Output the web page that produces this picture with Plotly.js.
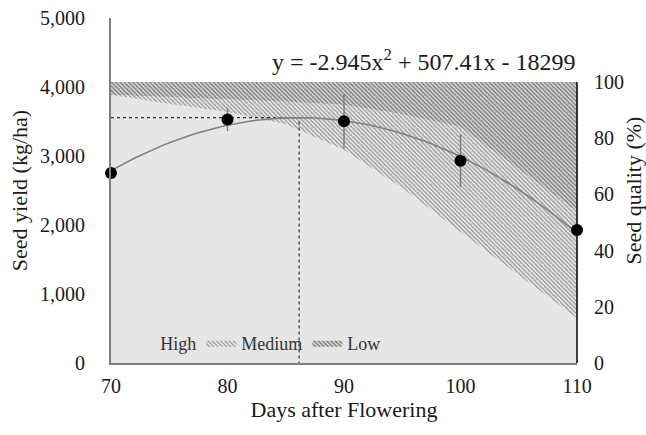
<!DOCTYPE html>
<html>
<head>
<meta charset="utf-8">
<script src="https://cdn.plot.ly/plotly-3.0.1.min.js"></script>
<style>html,body{margin:0;padding:0;background:#fff;}#chart{width:646px;height:435px;}</style>
</head>
<body>
<div id="chart"></div>
<script>
// Seed yield observations
const days = [70, 80, 90, 100, 110];
const yieldKg = [2755, 3530, 3505, 2930, 1928];
const yieldErr = [0, 170, 390, 380, 0];

// Trendline coefficients (from the equation shown on the chart)
const coefA = -2.945, coefB = 507.41, coefC = -18299;

// Seed quality bands (%), cumulative upper boundaries
const qDays = [70, 75, 80, 85, 90, 95, 100, 105, 110];
const highTop = [95.4, 92.2, 89.3, 85.0, 75.8, 62.3, 46.6, 31.3, 16.0];
const mediumTop = [95.4, 94.5, 93.8, 93.0, 91.8, 88.5, 84.0, 69.0, 54.0];
const lowTop = [100, 100, 100, 100, 100, 100, 100, 100, 100];

const xTicks = [70, 80, 90, 100, 110];
const yTicks = [0, 1000, 2000, 3000, 4000, 5000];
const qTicks = [0, 20, 40, 60, 80, 100];

const fitX = [];
for (let d = days[0]; d <= days[days.length - 1] + 1e-9; d += 0.5) fitX.push(d);
const f = x => coefA * x * x + coefB * x + coefC;
const fitY = fitX.map(f);
const vx = -coefB / (2 * coefA);
const vy = f(vx);

const serif = 'Liberation Serif';
const txt = '#1a1a1a';

const traces = [
  {x: qDays, y: highTop, yaxis: 'y', type: 'scatter', mode: 'lines', name: 'High',
   fill: 'tozeroy', fillcolor: '#e6e6e6', line: {width: 0}, hoverinfo: 'skip'},
  {x: qDays, y: mediumTop, yaxis: 'y', type: 'scatter', mode: 'lines', name: 'Medium',
   fill: 'tonexty', fillcolor: '#ebebeb', line: {width: 0}, hoverinfo: 'skip',
   fillpattern: {shape: '\\', fgcolor: '#999999', bgcolor: '#ebebeb', size: 3, solidity: 0.45}},
  {x: qDays, y: lowTop, yaxis: 'y', type: 'scatter', mode: 'lines', name: 'Low',
   fill: 'tonexty', fillcolor: '#d9d9d9', line: {width: 0}, hoverinfo: 'skip',
   fillpattern: {shape: '\\', fgcolor: '#808080', bgcolor: '#dcdcdc', size: 3, solidity: 0.5}},
  {x: [xTicks[0], vx, vx], y: [vy, vy, 0], yaxis: 'y2', type: 'scatter', mode: 'lines', showlegend: false,
   line: {color: '#333', width: 1.2, dash: 'dot'}, hoverinfo: 'skip'},
  {x: fitX, y: fitY, yaxis: 'y2', type: 'scatter', mode: 'lines', showlegend: false,
   line: {color: '#808080', width: 1.6}, hoverinfo: 'skip'},
  {x: days, y: yieldKg, yaxis: 'y2', type: 'scatter', mode: 'markers', showlegend: false,
   marker: {color: '#000', size: 12},
   error_y: {type: 'data', array: yieldErr, visible: true, color: '#7f7f7f', thickness: 1.5, width: 0},
   cliponaxis: false}
];

const layout = {
  width: 646, height: 435,
  margin: {l: 111, r: 69, t: 18, b: 72},
  paper_bgcolor: '#fff', plot_bgcolor: '#fff',
  font: {family: serif, color: txt, size: 20},
  showlegend: true,
  legend: {orientation: 'h', traceorder: 'normal', x: 0.02, y: 0.058, xanchor: 'left', yanchor: 'middle',
           bgcolor: 'rgba(0,0,0,0)', font: {family: serif, size: 18, color: '#333'},
           itemwidth: 30, tracegroupgap: 0},
  xaxis: {range: [70, 110], tickvals: xTicks, ticktext: xTicks.map(String),
          showgrid: false, zeroline: false, showline: true, linecolor: '#7f7f7f', linewidth: 2,
          ticks: '', ticklabelstandoff: 4, tickfont: {family: serif, size: 20, color: txt},
          title: {text: 'Days after Flowering', font: {family: serif, size: 22, color: txt}, standoff: 4}},
  yaxis: {side: 'right', range: [0, 122.8], tickvals: qTicks,
          ticktext: qTicks.map(String), showgrid: false, zeroline: false, showline: false,
          ticks: '', ticklabelstandoff: 16, tickfont: {family: serif, size: 20, color: txt},
          title: {text: 'Seed quality (%)', font: {family: serif, size: 22, color: txt}, standoff: 4}},
  yaxis2: {overlaying: 'y', side: 'left', range: [0, 5000], tickvals: yTicks,
          ticktext: yTicks.map(v => v.toLocaleString('en-US')),
          showgrid: false, zeroline: false, showline: true, linecolor: '#7f7f7f', linewidth: 2,
          ticks: '', ticklabelstandoff: 20, tickfont: {family: serif, size: 20, color: txt},
          title: {text: 'Seed yield (kg/ha)', font: {family: serif, size: 22, color: txt}, standoff: 6}},
  shapes: [
    {type: 'line', xref: 'paper', yref: 'y', x0: 1, x1: 1, y0: 0, y1: 100,
     line: {color: '#000', width: 1.5}, layer: 'above'}
  ],
  annotations: [
    {xref: 'paper', yref: 'paper', x: 1.0, y: 0.878, xanchor: 'right', yanchor: 'middle',
     showarrow: false,
     text: 'y = ' + coefA + 'x<sup>2</sup> + ' + coefB + 'x - ' + Math.abs(coefC),
     font: {family: serif, size: 24, color: txt}}
  ]
};

Plotly.newPlot('chart', traces, layout, {displayModeBar: false, staticPlot: true});
</script>
</body>
</html>
